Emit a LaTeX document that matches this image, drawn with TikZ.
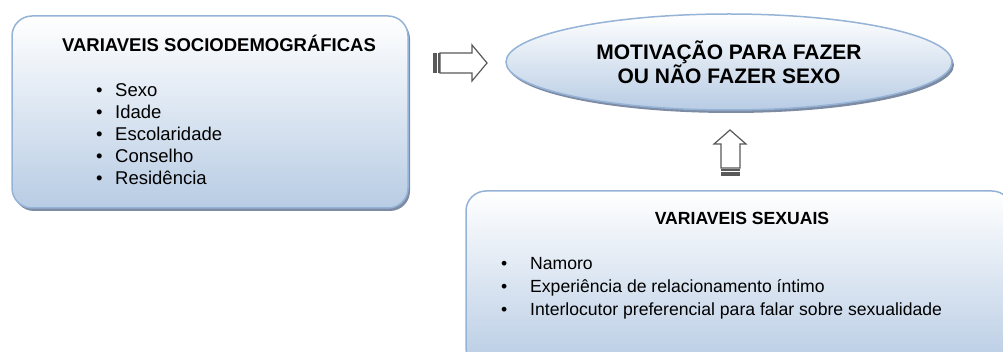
\documentclass[tikz,border=0pt]{standalone}
\usepackage{fontspec}
\setmainfont{Liberation Sans}
\usetikzlibrary{shapes.geometric,shadows}
\definecolor{boxline}{RGB}{149,179,215}
\definecolor{boxfill}{RGB}{184,204,228}
\definecolor{boxshadow}{RGB}{125,140,163}
\definecolor{arrline}{RGB}{89,89,89}

\begin{document}
\begin{tikzpicture}[x=1pt, y=-1pt,
    panel/.style={draw=boxline, line width=1.5pt, rounded corners=20pt, top color=white, bottom color=boxfill, inner sep=0pt,
      drop shadow={shadow xshift=2pt, shadow yshift=-3pt, fill=boxshadow, opacity=1}},
    oval/.style={ellipse, draw=boxline, line width=1.5pt, top color=white, bottom color=boxfill, inner sep=0pt,
      drop shadow={shadow xshift=2pt, shadow yshift=-3pt, fill=boxshadow, opacity=1},
      minimum width=446pt, minimum height=96pt, align=center, font=\bfseries\fontsize{21}{22}\selectfont},
    head/.style={anchor=base, inner sep=0pt, font=\bfseries\fontsize{18.5}{22}\selectfont},
    item/.style={anchor=base west, inner sep=0pt, font=\fontsize{18.5}{22}\selectfont},
    blockarr/.style={draw=arrline, line width=1.2pt, fill=white, line join=miter},
    stripe/.style={fill=arrline}]
    \useasboundingbox (0,0) rectangle (1003,352);

    \node[panel, minimum width=396pt, minimum height=192pt] (socio) at (210,112) {};
    \node[head] (sociotitle) at (219,52) {VARIAVEIS SOCIODEMOGRÁFICAS};
    \node[item] (sexo) at (96,97) {\makebox[19pt][l]{\textbullet}Sexo};
    \node[item] (idade) at (96,119) {\makebox[19pt][l]{\textbullet}Idade};
    \node[item] (escola) at (96,141) {\makebox[19pt][l]{\textbullet}Escolaridade};
    \node[item] (conselho) at (96,163) {\makebox[19pt][l]{\textbullet}Conselho};
    \node[item] (resid) at (96,185) {\makebox[19pt][l]{\textbullet}Residência};

    \node[oval] (motiv) at (729,62) {MOTIVAÇÃO PARA FAZER\\OU NÃO FAZER SEXO};

    \node[panel, minimum width=546pt, minimum height=177pt] (sexual) at (739,279.5) {};
    \node[head, font=\bfseries\fontsize{17.6}{22}\selectfont] (sexualtitle) at (742,225) {VARIAVEIS SEXUAIS};
    \node[item, font=\fontsize{17.6}{23}\selectfont] (namoro) at (501,270) {\makebox[29pt][l]{\textbullet}Namoro};
    \node[item, font=\fontsize{17.6}{23}\selectfont] (exper) at (501,293) {\makebox[29pt][l]{\textbullet}Experiência de relacionamento íntimo};
    \node[item, font=\fontsize{17.6}{23}\selectfont] (interloc) at (501,316) {\makebox[29pt][l]{\textbullet}Interlocutor preferencial para falar sobre sexualidade};

    % striped arrow socio -> motiv
    \draw[blockarr] (440,53) -- (472,53) -- (472,45) -- (487,63) -- (472,81) -- (472,73) -- (440,73) -- cycle;
    \fill[stripe] (433,53) rectangle (437,73);
    \fill[stripe] (438,53) rectangle (439.5,73);

    % striped arrow sexual -> motiv
    \draw[blockarr] (721,168) -- (721,144) -- (714,144) -- (730,130) -- (746,144) -- (740,144) -- (740,168) -- cycle;
    \fill[stripe] (721,169.5) rectangle (740,171);
    \fill[stripe] (721,172.5) rectangle (740,176);
  \end{tikzpicture}
\end{document}
